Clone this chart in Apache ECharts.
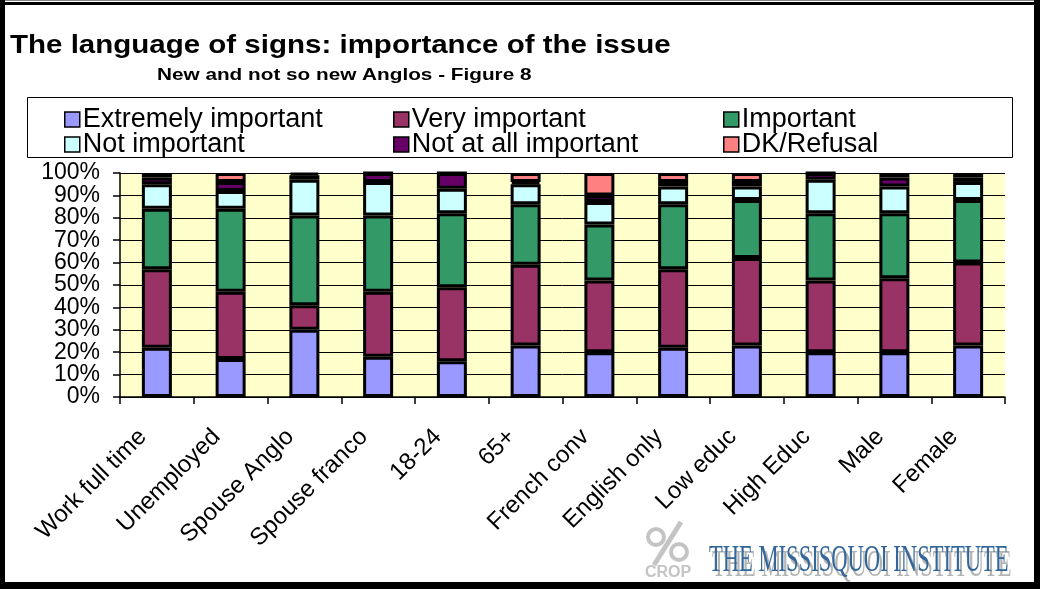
<!DOCTYPE html>
<html>
<head>
<meta charset="utf-8">
<script src="https://cdn.jsdelivr.net/npm/echarts@6/dist/echarts.min.js"></script>
<style>
  html, body { margin: 0; padding: 0; background: #fff; }
  #chart { width: 1040px; height: 589px; }
</style>
</head>
<body>
<div id="chart"></div>
<script>
// Groups of respondents
const categories = ['Work full time', 'Unemployed', 'Spouse Anglo', 'Spouse franco', '18-24', '65+',
  'French conv', 'English only', 'Low educ', 'High Educ', 'Male', 'Female'];

// Share of answers per group (percent)
const extremelyImportant = [22, 17, 30, 18, 16, 23, 20, 22, 23, 20, 20, 23];
const veryImportant      = [35, 30, 11, 29, 33, 36, 32, 35, 39, 32, 33, 37];
const important          = [27, 37, 40, 34, 33, 27, 25, 29, 26, 30, 29, 28];
const notImportant       = [11,  8, 16, 15, 11,  9, 10,  8,  6, 15, 12,  8];
const notAtAllImportant  = [ 3,  4,  2,  4,  7,  1,  3,  2,  2,  3,  4,  2];
const dkRefusal          = [ 2,  4,  1,  0,  0,  4, 10,  4,  4,  0,  2,  2];

const yTicks = [0, 10, 20, 30, 40, 50, 60, 70, 80, 90, 100];

const seriesDefs = [
  { name: 'Extremely important', data: extremelyImportant, color: '#9999FF' },
  { name: 'Very important',      data: veryImportant,      color: '#993366' },
  { name: 'Important',           data: important,          color: '#339966' },
  { name: 'Not important',       data: notImportant,       color: '#CCFFFF' },
  { name: 'Not at all important',data: notAtAllImportant,  color: '#660066' },
  { name: 'DK/Refusal',          data: dkRefusal,          color: '#FF8080' }
];

const FONT = '"Liberation Sans", Arial, sans-serif';
const Y_MIN = yTicks[0];
const Y_MAX = yTicks[yTicks.length - 1];
const isEnd = v => v === Y_MIN || v === Y_MAX;
const chart = echarts.init(document.getElementById('chart'), null, { renderer: 'canvas' });

// one legend entry placed in the three-column, two-row key
function legendItem(name, left, top) {
  return {
    data: [name],
    left: left,
    top: top,
    itemWidth: 15,
    itemHeight: 15,
    icon: 'rect',
    selectedMode: false,
    itemStyle: { borderColor: '#000', borderWidth: 1.5 },
    textStyle: { fontFamily: FONT, fontSize: 27, color: '#000', padding: [0, 0, 0, -2] }
  };
}

const legendCols = [59, 388, 718];
const legendRows = [101, 126];

// percent labels are tightly packed; the inner ticks and the two end ticks
// are labelled by two overlaid axes so none of them gets dropped
function percentAxis(showEnds, main) {
  return {
    type: 'value',
    position: 'left',
    min: Y_MIN,
    max: Y_MAX,
    interval: yTicks[1] - yTicks[0],
    axisLine: { show: main, lineStyle: { color: '#000', width: 1.5 } },
    axisTick: { show: main, length: 7, lineStyle: { color: '#000', width: 1.5 } },
    axisLabel: {
      formatter: v => (isEnd(v) === showEnds ? v + '%' : ''),
      fontFamily: FONT, fontSize: 23, color: '#000', margin: 20,
      showMinLabel: true, showMaxLabel: true, hideOverlap: false
    },
    splitLine: { show: main, lineStyle: { color: '#000', width: 1 } }
  };
}

chart.setOption({
  animation: false,
  backgroundColor: '#fff',
  legend: seriesDefs.map((s, i) => {
    const order = [0, 3, 1, 4, 2, 5]; // column-major placement
    const pos = order.indexOf(i);
    return legendItem(s.name, legendCols[Math.floor(pos / 2)], legendRows[pos % 2]);
  }),
  grid: { left: 120, right: 35, top: 173, bottom: 192, show: true, backgroundColor: '#FFFFCC', borderWidth: 0 },
  xAxis: {
    type: 'category',
    data: categories,
    axisLine: { lineStyle: { color: '#000', width: 1.5 } },
    axisTick: { show: true, alignWithLabel: false, length: 7, lineStyle: { color: '#000', width: 1.5 } },
    axisLabel: { rotate: 45, fontFamily: FONT, fontSize: 24, color: '#000', margin: 22, interval: 0,
      padding: [0, 20, 0, 0] }
  },
  yAxis: [percentAxis(false, true), percentAxis(true, false)],
  series: seriesDefs.map(s => ({
    name: s.name,
    type: 'bar',
    stack: 'total',
    data: s.data,
    barWidth: 30,
    yAxisIndex: 0,
    itemStyle: { color: s.color, borderColor: '#000', borderWidth: 3 }
  })),
  graphic: [
    // outer frame
    { type: 'rect', shape: { x: 0, y: 0, width: 1040, height: 1 }, silent: true, style: { fill: '#888' } },
    { type: 'rect', shape: { x: 0, y: 2, width: 1040, height: 3 }, silent: true, style: { fill: '#000' } },
    { type: 'rect', shape: { x: 0, y: 0, width: 5, height: 589 }, silent: true, style: { fill: '#000' } },
    { type: 'rect', shape: { x: 1034, y: 0, width: 6, height: 589 }, silent: true, style: { fill: '#000' } },
    { type: 'rect', shape: { x: 0, y: 582, width: 1040, height: 7 }, silent: true, style: { fill: '#000' } },
    // legend box
    { type: 'rect', shape: { x: 27.5, y: 97.5, width: 985, height: 60 }, silent: true,
      style: { fill: 'none', stroke: '#000', lineWidth: 1 } },
    // headings
    { type: 'text', x: 10, y: 46, scaleX: 1.18, silent: true,
      style: { text: 'The language of signs: importance of the issue', font: 'bold 25px "Liberation Sans", Arial, sans-serif',
        fill: '#000', verticalAlign: 'middle' } },
    { type: 'text', x: 157, y: 75, scaleX: 1.22, silent: true,
      style: { text: 'New and not so new Anglos - Figure 8', font: 'bold 17px "Liberation Sans", Arial, sans-serif',
        fill: '#000', verticalAlign: 'middle' } },
    // CROP logo
    { type: 'circle', shape: { cx: 656, cy: 537, r: 8 }, silent: true,
      style: { fill: 'none', stroke: '#c4c4c4', lineWidth: 4 } },
    { type: 'circle', shape: { cx: 679, cy: 552, r: 8 }, silent: true,
      style: { fill: 'none', stroke: '#c4c4c4', lineWidth: 4 } },
    { type: 'line', shape: { x1: 681, y1: 522, x2: 654, y2: 565 }, silent: true,
      style: { stroke: '#c4c4c4', lineWidth: 5 } },
    { type: 'text', x: 668, y: 573, silent: true,
      style: { text: 'CROP', font: 'bold 16px "Liberation Sans", sans-serif', fill: '#c4c4c4',
        align: 'center', verticalAlign: 'middle' } },
    // institute name with shadow
    { type: 'text', x: 712, y: 566, scaleX: 0.61, silent: true,
      style: { text: 'THE MISSISQUOI INSTITUTE', font: '37px "Liberation Serif", serif', fill: '#b4b4b4',
        verticalAlign: 'middle' } },
    { type: 'text', x: 709, y: 561, scaleX: 0.61, silent: true,
      style: { text: 'THE MISSISQUOI INSTITUTE', font: '37px "Liberation Serif", serif', fill: '#336699',
        verticalAlign: 'middle' } }
  ]
});
</script>
</body>
</html>
